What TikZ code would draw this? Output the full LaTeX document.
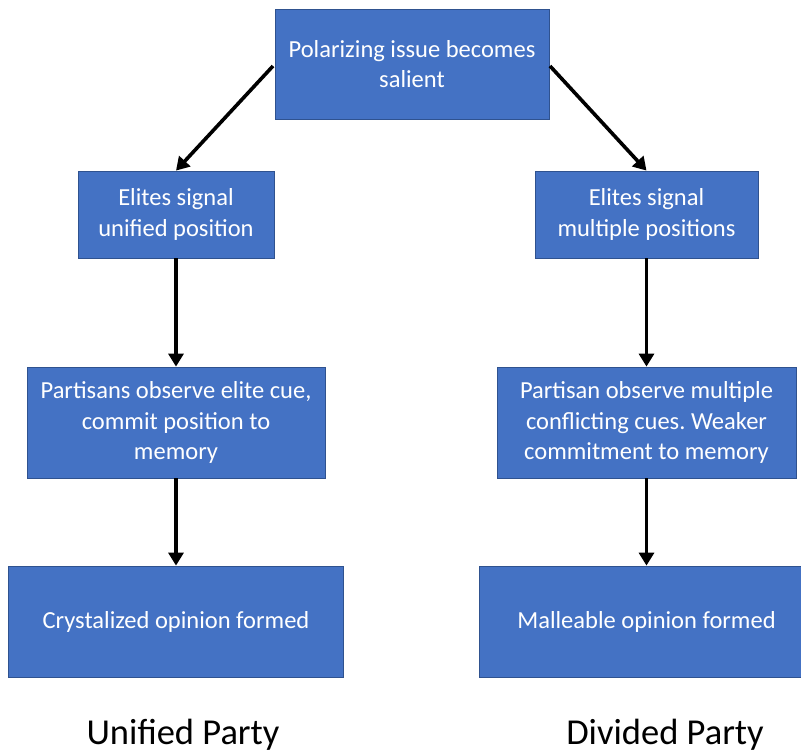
\documentclass[tikz,border=0pt]{standalone}
\usepackage{fontspec}
\setmainfont{Carlito}
\frenchspacing
\usetikzlibrary{arrows.meta}
\definecolor{boxfill}{HTML}{4472C4}
\definecolor{boxline}{HTML}{2F528F}
\begin{document}
\begin{tikzpicture}[x=1pt,y=-1pt,
  box/.style={draw=boxline,line width=0.8pt,fill=boxfill,text=white,align=center,
    font=\fontsize{24.5}{30.5}\selectfont,inner sep=0pt,anchor=center},
  conn/.style={line width=3.6pt,-{Triangle[length=13pt,width=15pt]}},
  lbl/.style={font=\fontsize{36.5}{40}\selectfont,anchor=center}]
\useasboundingbox (0,0) rectangle (801,752);
\clip (0,0) rectangle (801,752);
\node[box,minimum width=274pt,minimum height=110pt] (top) at (412,64) {Polarizing issue becomes\\salient};
\node[box,minimum width=196pt,minimum height=87pt] (le) at (176,214.5) {Elites signal\\unified position};
\node[box,minimum width=223pt,minimum height=87pt] (re) at (646.5,214.5) {Elites signal\\multiple positions};
\node[box,minimum width=298pt,minimum height=111pt] (lp) at (176,422.5) {Partisans observe elite cue,\\commit position to\\memory};
\node[box,minimum width=299pt,minimum height=111pt] (rp) at (646.5,422.5) {Partisan observe multiple\\conflicting cues. Weaker\\commitment to memory};
\node[box,minimum width=335pt,minimum height=111pt] (lc) at (176,621.5) {Crystalized opinion formed};
\node[box,minimum width=334pt,minimum height=111pt] (rc) at (646.5,621.5) {Malleable opinion formed};
\node[lbl] (lu) at (183,735) {Unified Party};
\node[lbl] (ld) at (665,735) {Divided Party};
\coordinate (a1s) at (273,66);
\coordinate (a2s) at (550,66);
\draw[conn] (a1s) -- (le.north);
\draw[conn] (a2s) -- (re.north);
\draw[conn] (le.south) -- (lp.north);
\draw[conn] (re.south) -- (rp.north);
\draw[conn] (lp.south) -- (lc.north);
\draw[conn] (rp.south) -- (rc.north);
\end{tikzpicture}
\end{document}
